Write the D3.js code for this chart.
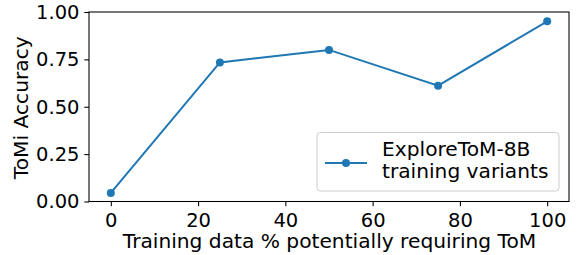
<!DOCTYPE html>
<html>
<head>
<meta charset="utf-8">
<script src="https://cdn.jsdelivr.net/npm/d3@7"></script>
<style>
  body { margin: 0; background: #fff; }
  text { font-family: "DejaVu Sans", sans-serif; fill: #000; }
</style>
</head>
<body>
<script>
// data
var trainPct = [0, 25, 50, 75, 100];
var tomiAcc = [0.045, 0.734, 0.80, 0.611, 0.951];
var xTicks = [0, 20, 40, 60, 80, 100];
var yTicks = [0, 0.25, 0.5, 0.75, 1.0];
var seriesName = ["ExploreToM-8B", "training variants"];

var width = 578, height = 255;
var margin = {left: 89, right: 9, top: 12, bottom: 53.5};
var blue = "#1f77b4";
var fs = 19.5;   // tick labels
var lfs = 20.2;  // axis labels and legend

var svg = d3.select("body").append("svg")
  .attr("width", width)
  .attr("height", height);

var x = d3.scaleLinear().domain([-5, 105]).range([margin.left, width - margin.right]);
var y = d3.scaleLinear().domain([0, 1]).range([height - margin.bottom, margin.top]);

//axes
var xAxis = svg.append("g")
  .attr("transform", "translate(0," + (height - margin.bottom) + ")")
  .call(d3.axisBottom(x).tickValues(xTicks).tickSize(4.7).tickPadding(7).tickFormat(d3.format("d")));
var yAxis = svg.append("g")
  .attr("transform", "translate(" + margin.left + ",0)")
  .call(d3.axisLeft(y).tickValues(yTicks).tickSize(4.7).tickPadding(4.8).tickFormat(d3.format(".2f")));

[xAxis, yAxis].forEach(function(g) {
  g.select(".domain").remove();
  g.selectAll("line").attr("stroke", "#000").attr("stroke-width", 1.07);
  g.selectAll("text").style("font-size", fs + "px").style("font-family", "DejaVu Sans");
});

//frame
svg.append("rect")
  .attr("x", margin.left).attr("y", margin.top)
  .attr("width", width - margin.right - margin.left)
  .attr("height", height - margin.bottom - margin.top)
  .attr("fill", "none").attr("stroke", "#000").attr("stroke-width", 1.07);

//line and markers
var line = d3.line().x(function(d, i) { return x(trainPct[i]); }).y(function(d) { return y(d); });
svg.append("path")
  .datum(tomiAcc)
  .attr("d", line)
  .attr("fill", "none").attr("stroke", blue).attr("stroke-width", 2);
svg.selectAll(".pt")
  .data(tomiAcc)
  .enter().append("circle")
  .attr("class", "pt")
  .attr("cx", function(d, i) { return x(trainPct[i]); })
  .attr("cy", function(d) { return y(d); })
  .attr("r", 4)
  .attr("fill", blue);

//axis labels
svg.append("text")
  .attr("x", 329.5)
  .attr("y", 248.3)
  .attr("text-anchor", "middle")
  .style("font-size", lfs + "px")
  .text("Training data % potentially requiring ToM");
svg.append("text")
  .attr("transform", "translate(27.7," + ((margin.top + height - margin.bottom) / 2 + 1) + ") rotate(-90)")
  .attr("text-anchor", "middle")
  .style("font-size", lfs + "px")
  .text("ToMi Accuracy");

//legend
var lg = svg.append("g");
lg.append("rect")
  .attr("x", 317).attr("y", 132.5).attr("width", 242).attr("height", 58.5)
  .attr("rx", 3.5)
  .attr("fill", "#fff").attr("fill-opacity", 0.8)
  .attr("stroke", "#ccc").attr("stroke-width", 1);
lg.append("line")
  .attr("x1", 325).attr("x2", 367).attr("y1", 163).attr("y2", 163)
  .attr("stroke", blue).attr("stroke-width", 2);
lg.append("circle").attr("cx", 346).attr("cy", 163).attr("r", 4).attr("fill", blue);
lg.selectAll(".lt")
  .data(seriesName)
  .enter().append("text")
  .attr("class", "lt")
  .attr("x", 382)
  .attr("y", function(d, i) { return 155.7 + i * 22.6; })
  .style("font-size", lfs + "px")
  .text(function(d) { return d; });
</script>
</body>
</html>
